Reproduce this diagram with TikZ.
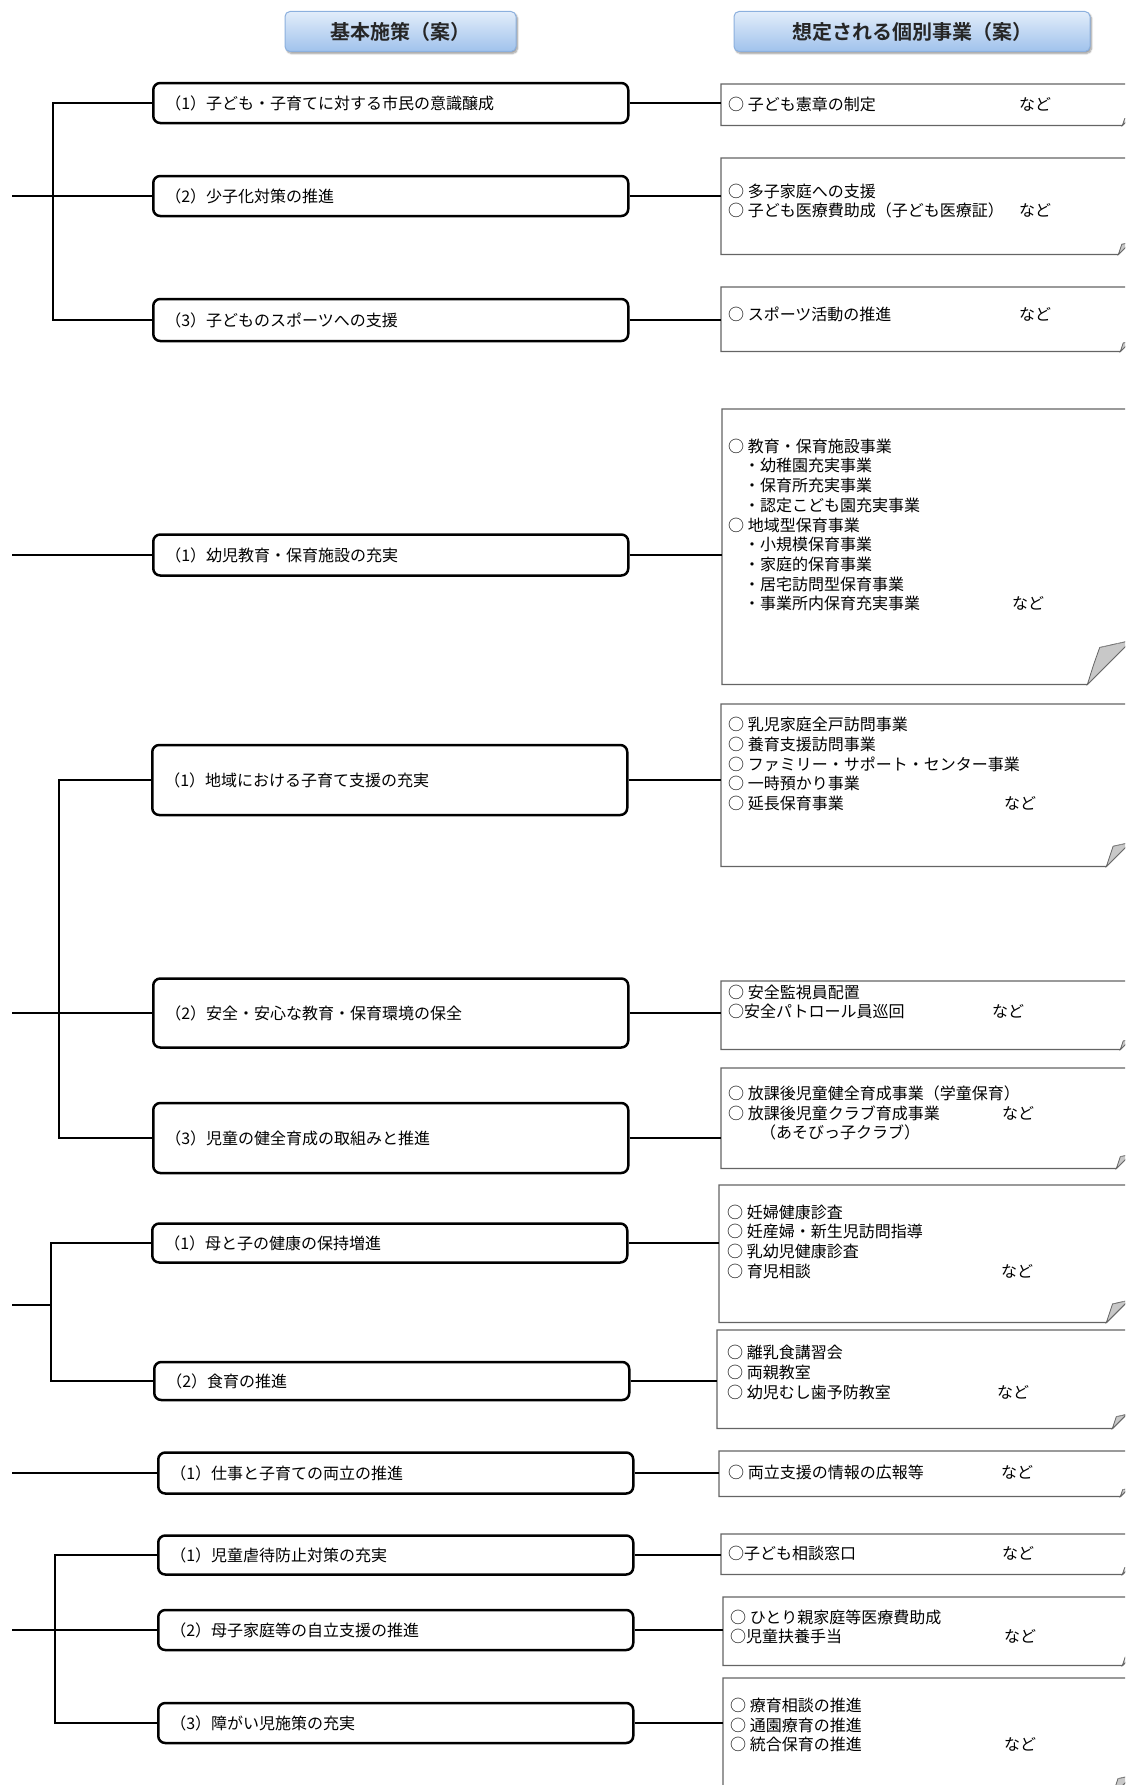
\documentclass[tikz,border=0pt]{standalone}
\usepackage{fontspec}
\newfontfamily\jpfont{Noto Sans CJK JP}[BoldFont={Noto Sans CJK JP Bold}]
\usetikzlibrary{shadows.blur}
\usetikzlibrary{shapes}
\usepackage{xcolor}

\definecolor{headtop}{RGB}{226,237,250}
\definecolor{headbot}{RGB}{160,194,236}
\definecolor{headline}{RGB}{140,176,222}
\definecolor{noteline}{RGB}{100,100,100}
\definecolor{foldgray}{RGB}{200,200,200}

\newcommand{\nado}[2]{\makebox[#1pt][l]{#2}など}
\newcommand{\foldbox}[2]{%
  \draw [noteedge] (#1.north west) -- (#1.north east) -- ([yshift=-#2]#1.south east) -- ([xshift=-#2]#1.south east) -- (#1.south west) -- cycle ;
  \draw [foldedge] ([xshift=-#2]#1.south east) .. controls ([xshift=-0.86*#2,yshift=-0.45*#2]#1.south east) .. ([xshift=-0.72*#2,yshift=-0.84*#2]#1.south east) -- ([yshift=-#2]#1.south east) -- cycle ;
  \draw [noteline!70, line width=0.6, dash pattern={on 2pt off 1.5pt}] ([xshift=-0.72*#2,yshift=-0.84*#2]#1.south east) -- ([yshift=-#2]#1.south east) ;
}

\tikzset{
  headbox/.style={rounded corners=5, draw=headline, line width=1, top color=headtop, bottom color=headbot, blur shadow={shadow xshift=1.5pt, shadow yshift=-2pt, shadow blur steps=6}, font=\jpfont\bfseries\fontsize{20}{24}\selectfont, text=black!85},
  mainbox/.style={draw, line width=2.5, rounded corners=7, anchor=west, text width=451, inner xsep=12, inner ysep=0, align=left, font=\jpfont\fontsize{16}{19}\selectfont},
  notebox/.style={draw=none, anchor=north west, minimum width=409, inner sep=0},
  notetext/.style={anchor=west, inner sep=0, align=left, font=\jpfont\fontsize{16}{19.7}\selectfont},
  noteedge/.style={draw=noteline, line width=1.3},
  foldedge/.style={draw=noteline, fill=foldgray, line width=0.8},
  link/.style={line width=2.5},
}

\begin{document}
\begin{tikzpicture}[x=1pt,y=1pt,yscale=-1,xscale=1]
\path [use as bounding box] (0,0) rectangle (1125,1785) ;
\clip (0,0) rectangle (1125,1785) ;

% Text Node
\node [headbox, minimum width=231, minimum height=40] (h1) at (400.5,31.5) {基本施策（案）};
% Text Node
\node [headbox, minimum width=356, minimum height=40] (h2) at (912,31.5) {想定される個別事業（案）};

%Shape: Rounded Rect
\node [mainbox, minimum height=40] (b11) at (152,103) {（1）子ども・子育てに対する市民の意識醸成};
\node [mainbox, minimum height=40] (b12) at (152,196) {（2）少子化対策の推進};
\node [mainbox, minimum height=42] (b13) at (152,320) {（3）子どものスポーツへの支援};
\node [mainbox, minimum height=41] (b21) at (152,555) {（1）幼児教育・保育施設の充実};
\node [mainbox, minimum height=70] (b31) at (151,780) {（1）地域における子育て支援の充実};
\node [mainbox, minimum height=69] (b32) at (152,1013) {（2）安全・安心な教育・保育環境の保全};
\node [mainbox, minimum height=70] (b33) at (152,1138) {（3）児童の健全育成の取組みと推進};
\node [mainbox, minimum height=39] (b41) at (151,1243) {（1）母と子の健康の保持増進};
\node [mainbox, minimum height=38] (b42) at (153,1381) {（2）食育の推進};
\node [mainbox, minimum height=41] (b51) at (157,1473) {（1）仕事と子育ての両立の推進};
\node [mainbox, minimum height=39] (b61) at (157,1555) {（1）児童虐待防止対策の充実};
\node [mainbox, minimum height=40] (b62) at (157,1630) {（2）母子家庭等の自立支援の推進};
\node [mainbox, minimum height=40] (b63) at (157,1723) {（3）障がい児施策の充実};

%Shape: Folded Corner
\node [notebox, minimum height=41] (r11) at (721,84) {};
\node [notebox, minimum height=96] (r12) at (721,158) {};
\node [notebox, minimum height=64] (r13) at (721,287) {};
\node [notebox, minimum height=275] (r21) at (722,409) {};
\node [notebox, minimum height=162] (r31) at (721,704) {};
\node [notebox, minimum height=68] (r32) at (721,981) {};
\node [notebox, minimum height=100] (r33) at (721,1068) {};
\node [notebox, minimum height=137] (r41) at (719,1185) {};
\node [notebox, minimum height=98] (r42) at (717,1330) {};
\node [notebox, minimum height=45] (r51) at (719,1451) {};
\node [notebox, minimum height=40] (r61) at (721,1534) {};
\node [notebox, minimum height=68] (r62) at (723,1597) {};
\node [notebox, minimum height=117] (r63) at (723,1678) {};
\foldbox{r11}{8pt}
\foldbox{r12}{12pt}
\foldbox{r13}{10pt}
\foldbox{r21}{44pt}
\foldbox{r31}{24pt}
\foldbox{r32}{10pt}
\foldbox{r33}{14pt}
\foldbox{r41}{22pt}
\foldbox{r42}{14pt}
\foldbox{r51}{8pt}
\foldbox{r61}{8pt}
\foldbox{r62}{10pt}
\foldbox{r63}{20pt}

% Text Node
\node [notetext] (t11) at (728,104.5) {\nado{291}{○ 子ども憲章の制定}};
% Text Node
\node [notetext] (t12) at (728,201) {○ 多子家庭への支援\\ \nado{291}{○ 子ども医療費助成（子ども医療証）}};
% Text Node
\node [notetext] (t13) at (728,314) {\nado{291}{○ スポーツ活動の推進}};
% Text Node
\node [notetext] (t21) at (728,525) {○ 教育・保育施設事業\\　・幼稚園充実事業\\　・保育所充実事業\\　・認定こども園充実事業\\○ 地域型保育事業\\　・小規模保育事業\\　・家庭的保育事業\\　・居宅訪問型保育事業\\ \nado{284}{　・事業所内保育充実事業}};
% Text Node
\node [notetext] (t31) at (728,764) {○ 乳児家庭全戸訪問事業\\○ 養育支援訪問事業\\○ ファミリー・サポート・センター事業\\○ 一時預かり事業\\ \nado{276}{○ 延長保育事業}};
% Text Node
\node [notetext] (t32) at (728,1002) {○ 安全監視員配置\\ \nado{264}{○安全パトロール員巡回}};
% Text Node
\node [notetext] (t33) at (728,1113) {○ 放課後児童健全育成事業（学童保育）\\ \nado{274}{○ 放課後児童クラブ育成事業}\\　　（あそびっ子クラブ）};
% Text Node
\node [notetext] (t41) at (727,1241.5) {○ 妊婦健康診査\\○ 妊産婦・新生児訪問指導\\○ 乳幼児健康診査\\ \nado{274}{○ 育児相談}};
% Text Node
\node [notetext] (t42) at (727,1372.5) {○ 離乳食講習会\\○ 両親教室\\ \nado{270}{○ 幼児むし歯予防教室}};
% Text Node
\node [notetext] (t51) at (728,1472) {\nado{273}{○ 両立支援の情報の広報等}};
% Text Node
\node [notetext] (t61) at (728,1553) {\nado{274}{○子ども相談窓口}};
% Text Node
\node [notetext] (t62) at (730,1627) {○ ひとり親家庭等医療費助成\\ \nado{274}{○児童扶養手当}};
% Text Node
\node [notetext] (t63) at (730,1725) {○ 療育相談の推進\\○ 通園療育の推進\\ \nado{274}{○ 統合保育の推進}};

%Straight Lines
\coordinate (g1) at (53,196) ;
\coordinate (s1) at (12,196) ;
\draw [link] (b11.west) -| (g1) |- (b13.west) ;
\draw [link] (s1) -- (b12.west) ;
\coordinate (s2) at (12,555) ;
\draw [link] (s2) -- (b21.west) ;
\coordinate (g3) at (59,1013) ;
\coordinate (s3) at (12,1013) ;
\draw [link] (b31.west) -| (g3) |- (b33.west) ;
\draw [link] (s3) -- (b32.west) ;
\coordinate (g4) at (51,1305) ;
\coordinate (s4) at (12,1305) ;
\draw [link] (b41.west) -| (g4) |- (b42.west) ;
\draw [link] (s4) -- (g4) ;
\coordinate (s5) at (12,1473) ;
\draw [link] (s5) -- (b51.west) ;
\coordinate (g6) at (55,1630) ;
\coordinate (s6) at (12,1630) ;
\draw [link] (b61.west) -| (g6) |- (b63.west) ;
\draw [line width=1.4] (s6) -- (b62.west) ;

%Straight Lines
\foreach \b/\r in {b11/r11,b12/r12,b13/r13,b21/r21,b31/r31,b32/r32,b33/r33,b41/r41,b42/r42,b51/r51,b61/r61,b62/r62,b63/r63}
  \draw [link] (\b.east) -- (\b.east -| \r.west) ;

\end{tikzpicture}
\end{document}
